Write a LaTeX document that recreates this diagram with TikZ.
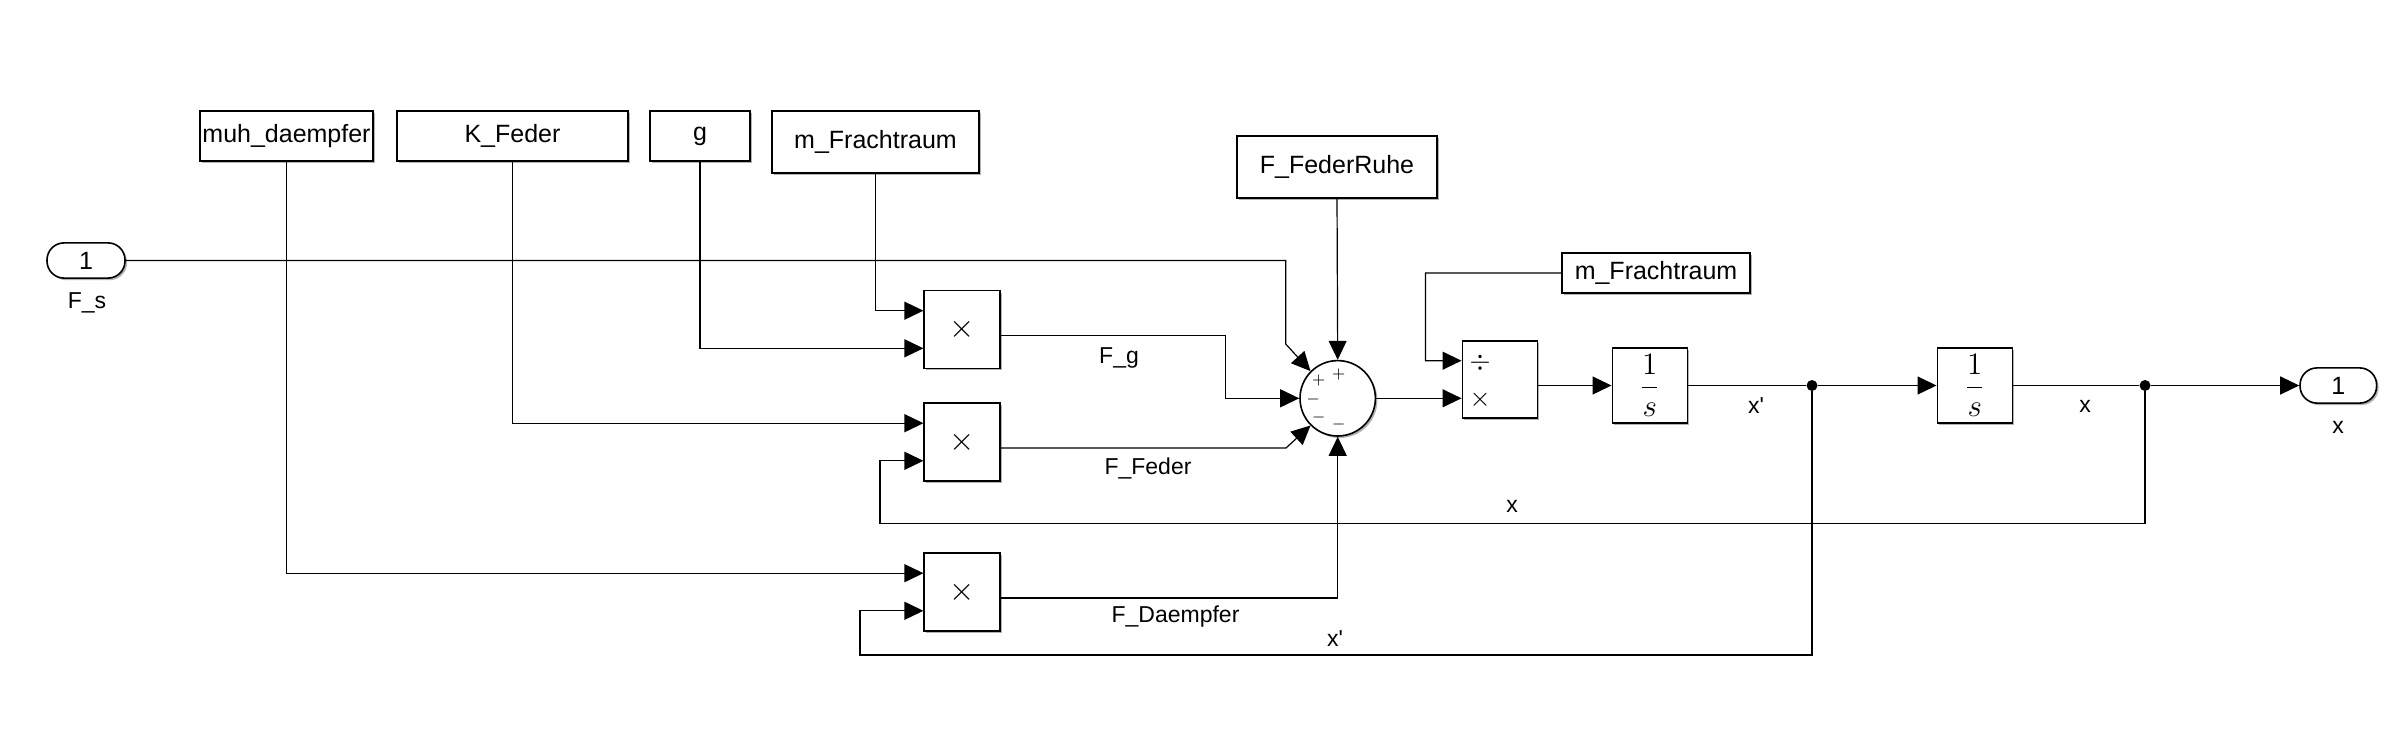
\documentclass[tikz,border=0pt]{standalone}
\usepackage{graphicx}
\usepackage{fontspec}
\newfontfamily\lsf{Liberation Sans}
\usetikzlibrary{arrows.meta,shadows,calc}
\newcommand{\bigop}[1]{\scalebox{1.35}{$#1$}}
\begin{document}
\begin{tikzpicture}[x=0.5pt,y=-0.5pt,
  blk/.style={draw,line width=0.8pt,fill=white,inner sep=0pt,
    font=\lsf\fontsize{12.5}{14}\selectfont,
    drop shadow={shadow xshift=1pt,shadow yshift=-1pt,fill=black,opacity=0.3}},
  port/.style={blk,rounded corners=8.5pt},
  sig/.style={line width=0.6pt},
  arr/.style={sig,-{Triangle[length=9.5pt,width=9pt]}},
  lbl/.style={inner sep=0pt,font=\lsf\fontsize{11.5}{13}\selectfont},
  sgn/.style={inner sep=0pt,font=\fontsize{8}{8}\selectfont},
  opsym/.style={inner sep=0pt},
  intg/.style={blk,minimum width=37.5pt,minimum height=37.2pt},
  dot/.style={circle,fill=black,inner sep=0pt,minimum size=5.5pt}]
\useasboundingbox[fill=white] (0,0) rectangle (2401,748);

% sources
\node[port,minimum width=39pt,minimum height=17.6pt] (Fs) at (86,260.5) {1};
\node[lbl] (Fslbl) at (87,303) {F\_s};
\node[blk,minimum width=86.5pt,minimum height=25pt] (muh) at (286.5,136) {muh\_daempfer};
\node[blk,minimum width=115.5pt,minimum height=25pt] (K) at (512.5,136) {K\_Feder};
\node[blk,minimum width=50pt,minimum height=25pt] (g) at (700,136) {g};
\node[blk,minimum width=103.5pt,minimum height=31pt] (mF) at (875.5,142) {m\_Frachtraum};
\node[blk,minimum width=100pt,minimum height=31pt] (FFR) at (1337,167) {F\_FederRuhe};
\node[blk,minimum width=94pt,minimum height=20pt] (mF2) at (1656,273) {m\_Frachtraum};

% products
\node[blk,opsym,minimum width=37.8pt,minimum height=38.8pt] (p1) at (962,329.5) {\bigop{\times}};
\node[blk,opsym,minimum width=37.8pt,minimum height=38.8pt] (p2) at (962,442) {\bigop{\times}};
\node[blk,opsym,minimum width=37.8pt,minimum height=38.8pt] (p3) at (962,592) {\bigop{\times}};

% sum
\node[circle,draw,line width=0.8pt,fill=white,minimum size=37.7pt,inner sep=0pt,
  drop shadow={shadow xshift=1pt,shadow yshift=-1pt,fill=black,opacity=0.3}] (sum) at (1337.7,398.3) {};
\node[sgn] (s1) at (1318.7,380.3) {$+$};
\node[sgn] (s2) at (1338.7,374.3) {$+$};
\node[sgn] (s3) at (1313.3,399.3) {$-$};
\node[sgn] (s4) at (1318.7,417.3) {$-$};
\node[sgn] (s5) at (1338.7,424.3) {$-$};

% divide
\node[blk,minimum width=37.5pt,minimum height=38.5pt] (div) at (1499.8,379.5) {};
\node[opsym] (dv) at (1480,362.3) {\bigop{\div}};
\node[opsym] (dm) at (1480,400) {\bigop{\times}};

% integrators
\node[intg] (i1) at (1649.8,385.5) {\scalebox{1.3}{$\displaystyle\frac{1}{s}$}};
\node[intg] (i2) at (1974.8,385.5) {\scalebox{1.3}{$\displaystyle\frac{1}{s}$}};

% outport
\node[port,minimum width=38.3pt,minimum height=17.6pt] (out) at (2338.3,385.5) {1};
\node[lbl] (outlbl) at (2338,427) {x};

% junctions
\node[dot] (j1) at (1812,385.5) {};
\node[dot] (j2) at (2145,385.5) {};

% connectors
\draw[arr] (Fs.east) -| (1285.7,344) -- (sum.135);
\draw[arr] (muh.south) |- ($(p3.west)+(0,-18.8)$);
\draw[arr] (K.south) |- ($(p2.west)+(0,-18.8)$);
\draw[arr] (g.south) |- ($(p1.west)+(0,18.8)$);
\draw[arr] (mF.south) |- ($(p1.west)+(0,-18.8)$);
\draw[arr] ($(p1.east)+(0,6)$) -| (1225.5,398.3) -- (sum.west);
\draw[arr] ($(p2.east)+(0,6)$) -- (1286,448) -- (sum.225);
\draw[arr] ($(p3.east)+(0,6)$) -| (sum.south);
\draw[arr] (FFR.south) -- (sum.north);
\draw[arr] (sum.east) -- ($(div.west)+(0,18.8)$);
\draw[arr] (mF2.west) -| (1425.5,360.7) -- ($(div.west)+(0,-18.8)$);
\draw[arr] ($(div.east)+(0,6)$) -- (i1.west);
\draw[sig] (i1.east) -- (j1);
\draw[arr] (j1) -- (i2.west);
\draw[sig] (i2.east) -- (j2);
\draw[arr] (j2) -- (out.west);
\draw[arr] (j2) -- (2145,523.3) -| (880,460.8) -- ($(p2.west)+(0,18.8)$);
\draw[arr] (j1) -- (1812,655) -| (860,610.8) -- ($(p3.west)+(0,18.8)$);

% signal labels
\node[lbl] (lFg) at (1119,357.5) {F\_g};
\node[lbl] (lFF) at (1148,468) {F\_Feder};
\node[lbl] (lFD) at (1175.5,617) {F\_Daempfer};
\node[lbl] (lxd1) at (1335,639) {x'};
\node[lbl] (lx1) at (1512,506) {x};
\node[lbl] (lxd2) at (1756,406) {x'};
\node[lbl] (lx2) at (2085,406) {x};
\end{tikzpicture}
\end{document}
